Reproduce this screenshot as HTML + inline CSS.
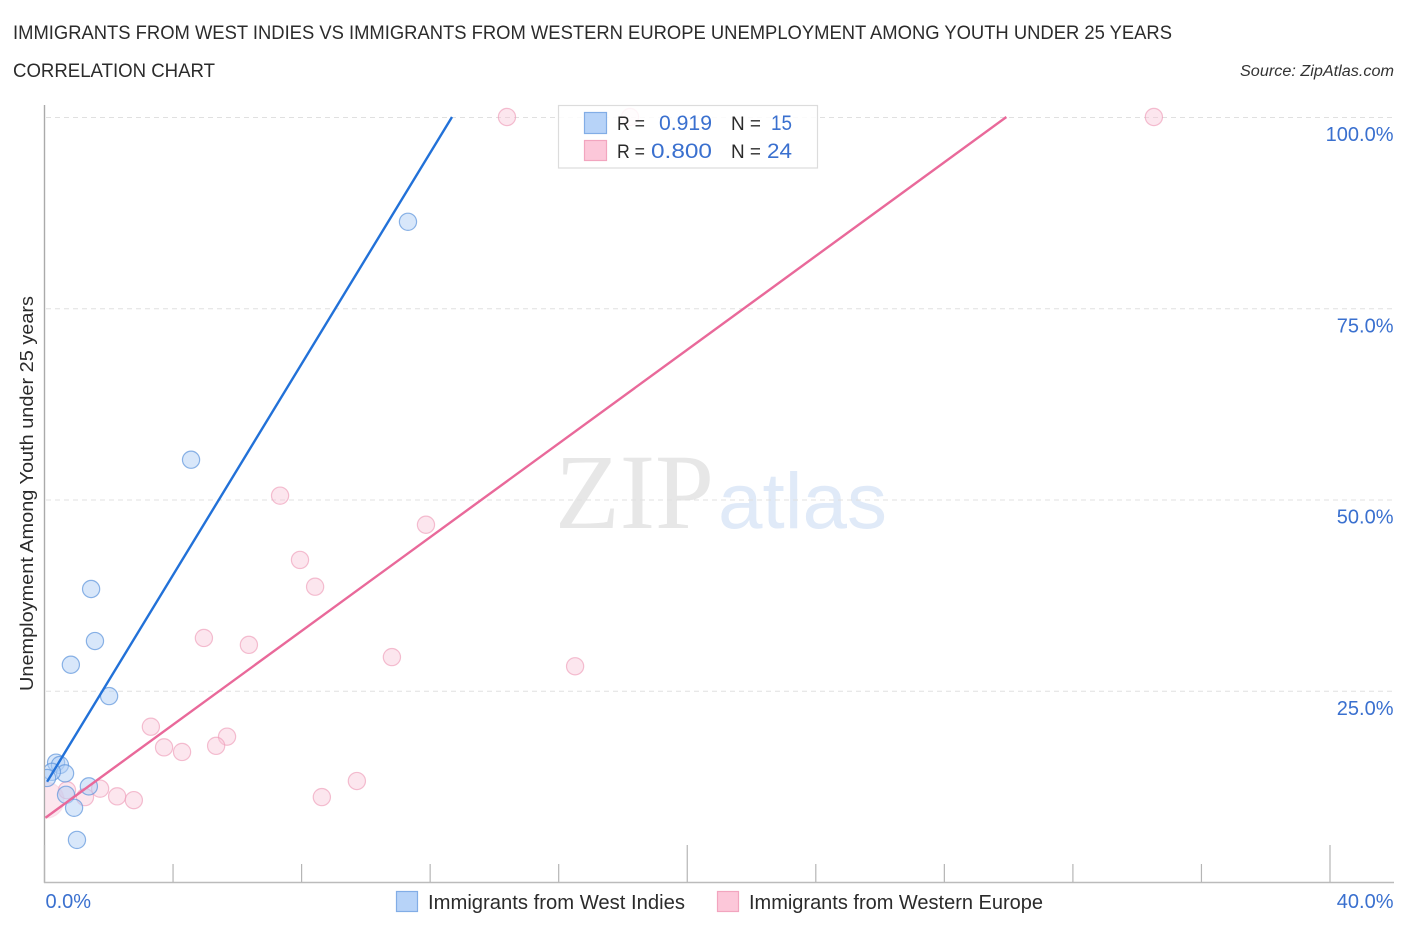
<!DOCTYPE html>
<html lang="en">
<head>
<meta charset="utf-8">
<title>Unemployment Among Youth under 25 years correlation chart</title>
<style>
html,body{margin:0;padding:0;background:#fff;width:1406px;height:930px;overflow:hidden}
svg{display:block;font-family:"Liberation Sans",sans-serif}
</style>
</head>
<body>
<svg id="chart" width="1406" height="930" viewBox="0 0 1406 930">
  <defs><clipPath id="plot-clip"><rect x="45" y="100" width="1350" height="782"/></clipPath></defs>
  <text x="13" y="39" font-size="19" fill="#2b2b2b" textLength="1159" lengthAdjust="spacingAndGlyphs">IMMIGRANTS FROM WEST INDIES VS IMMIGRANTS FROM WESTERN EUROPE UNEMPLOYMENT AMONG YOUTH UNDER 25 YEARS</text>
  <text x="13" y="77" font-size="19" fill="#2b2b2b" textLength="202" lengthAdjust="spacingAndGlyphs">CORRELATION CHART</text>
  <text x="1394" y="76" font-size="15.5" font-style="italic" fill="#333" text-anchor="end" textLength="154" lengthAdjust="spacingAndGlyphs">Source: ZipAtlas.com</text>

  <g>
    <text x="555" y="528" font-family="'Liberation Serif',serif" font-size="107" fill="#e7e7e7" textLength="159" lengthAdjust="spacingAndGlyphs">ZIP</text>
    <text x="718" y="528" font-family="'Liberation Sans',sans-serif" font-size="79" fill="#e0eaf8" textLength="169" lengthAdjust="spacingAndGlyphs">atlas</text>
  </g>

  <g id="grid"></g>
  <g id="axes"></g>
  <g id="pink-points" clip-path="url(#plot-clip)"></g>
  <g id="blue-points" clip-path="url(#plot-clip)"></g>
  <g id="trend-lines"></g>

  <text transform="translate(33,691) rotate(-90)" font-size="18.5" fill="#2b2b2b" textLength="395" lengthAdjust="spacingAndGlyphs">Unemployment Among Youth under 25 years</text>

  <g>
    <rect x="558.5" y="105.5" width="259" height="62.5" fill="#fff" fill-opacity="0.85" stroke="#dcdcdc" stroke-width="1.2"/>
    <rect x="584.5" y="112.5" width="22" height="21" fill="#b7d3f8" stroke="#82ade6" stroke-width="1.2"/>
    <rect x="584.5" y="140.5" width="22" height="20" fill="#fcc7d9" stroke="#f2a5bf" stroke-width="1.2"/>
    <text x="617" y="130" font-size="19" fill="#2b2b2b" textLength="28" lengthAdjust="spacingAndGlyphs">R =</text>
    <text x="659" y="130" font-size="21.5" fill="#3a70cf" textLength="53" lengthAdjust="spacingAndGlyphs">0.919</text>
    <text x="731" y="130" font-size="19" fill="#2b2b2b" textLength="30" lengthAdjust="spacingAndGlyphs">N =</text>
    <text x="771" y="130" font-size="21.5" fill="#3a70cf" textLength="21" lengthAdjust="spacingAndGlyphs">15</text>
    <text x="617" y="158" font-size="19" fill="#2b2b2b" textLength="28" lengthAdjust="spacingAndGlyphs">R =</text>
    <text x="651" y="158" font-size="21.5" fill="#3a70cf" textLength="61" lengthAdjust="spacingAndGlyphs">0.800</text>
    <text x="731" y="158" font-size="19" fill="#2b2b2b" textLength="30" lengthAdjust="spacingAndGlyphs">N =</text>
    <text x="767" y="158" font-size="21.5" fill="#3a70cf" textLength="25" lengthAdjust="spacingAndGlyphs">24</text>
  </g>

  <g>
    <rect x="396.5" y="891.5" width="21" height="20" fill="#b7d3f8" stroke="#82ade6" stroke-width="1.2"/>
    <text x="428" y="909" font-size="20" fill="#2b2b2b" textLength="257" lengthAdjust="spacingAndGlyphs">Immigrants from West Indies</text>
    <rect x="717.5" y="891.5" width="21" height="20" fill="#fcc7d9" stroke="#f2a5bf" stroke-width="1.2"/>
    <text x="749" y="909" font-size="20" fill="#2b2b2b" textLength="294" lengthAdjust="spacingAndGlyphs">Immigrants from Western Europe</text>
  </g>
</svg>
<script>
const xTickValues = [0, 4, 8, 12, 16, 20, 24, 28, 32, 36, 40];
const xMajorTicks = [0, 20, 40];
const xTickLabels = ['0.0%', '40.0%'];
const xLabelValues = [0, 40];
const yGridValues = [25, 50, 75, 100];
const yTickLabels = ['25.0%', '50.0%', '75.0%', '100.0%'];

const blueX = [11.31, 4.56, 1.45, 1.57, 0.82, 2.01, 0.36, 0.48, 0.64, 0.23, 0.08, 1.38, 0.67, 0.92, 1.01];
const blueY = [86.3, 55.2, 38.3, 31.5, 28.4, 24.3, 15.6, 15.3, 14.2, 14.4, 13.6, 12.5, 11.4, 9.7, 5.5];

const pinkX = [14.39, 18.22, 34.52, 7.33, 11.87, 7.95, 8.42, 4.96, 6.36, 10.81, 16.51, 3.31, 5.68, 3.72, 5.34, 4.28, 9.72, 8.63, 1.73, 2.26, 2.78, 1.26, 0.70, 0.05];
const pinkY = [100, 100, 100, 50.5, 46.7, 42.1, 38.6, 31.9, 31.0, 29.4, 28.2, 20.3, 19.0, 17.6, 17.8, 17.0, 13.2, 11.1, 12.2, 11.2, 10.7, 11.1, 12.0, 10.7];
const pinkWeights = [1, 1, 1, 1, 1, 1, 1, 1, 1, 1, 1, 1, 1, 1, 1, 1, 1, 1, 1, 1, 1, 1, 1, 2];

const blueTrendX = [0.08, 12.68];
const blueTrendY = [13.1, 100];
const pinkTrendX = [0.03, 29.93];
const pinkTrendY = [8.4, 100];

const NS = 'http://www.w3.org/2000/svg';
const X0 = 44.5, X1 = 1330, XMAX = 40;
const Y0 = 882, Y100 = 117;
function xScale(v) { return X0 + (v / XMAX) * (X1 - X0); }
function yScale(v) { return Y0 - (v / 100) * (Y0 - Y100); }
function make(tag, attrs, parent) {
  const el = document.createElementNS(NS, tag);
  for (const k in attrs) el.setAttribute(k, attrs[k]);
  parent.appendChild(el);
  return el;
}

const grid = document.getElementById('grid');
const axes = document.getElementById('axes');

yGridValues.forEach(function (v, i) {
  const line = make('line', { x1: 46, x2: 1392, y1: yScale(v) + 0.5, y2: yScale(v) + 0.5, stroke: '#e0e0e0', 'stroke-width': 1, 'stroke-dasharray': '5 4' }, grid);
  
  
  const label = make('text', { x: 1393.5, y: yScale(v) + 24, 'font-size': 20, fill: '#3a70cf', 'text-anchor': 'end' }, axes);
  label.textContent = yTickLabels[i];
  
  
});

const yAxis = make('line', { x1: 44.5, x2: 44.5, y1: 105, y2: 883, stroke: '#aaaaaa', 'stroke-width': 1.4 }, axes);


const xAxis = make('line', { x1: 44, x2: 1394, y1: 882.5, y2: 882.5, stroke: '#bbbbbb', 'stroke-width': 1.4 }, axes);



xTickValues.forEach(function (v) {
  const major = xMajorTicks.indexOf(v) >= 0;
  const tick = make('line', { x1: xScale(v), x2: xScale(v), y1: major ? 845 : 864, y2: 882, stroke: '#b5b5b5', 'stroke-width': 1.2 }, axes);
  
  
});

xLabelValues.forEach(function (v, i) {
  const label = make('text', { x: i === 0 ? xScale(v) + 1 : 1393.5, y: 908, 'font-size': 20, fill: '#3a70cf', 'text-anchor': i === 0 ? 'start' : 'end' }, axes);
  label.textContent = xTickLabels[i];
  
  
});

const pinkLayer = document.getElementById('pink-points');
pinkX.forEach(function (v, i) {
  const c = make('circle', { cx: xScale(v), cy: yScale(pinkY[i]), r: pinkWeights[i] > 1 ? 18 : 8.6, fill: '#f9c3d6', 'fill-opacity': 0.42, stroke: '#ee9db9', 'stroke-opacity': pinkWeights[i] > 1 ? 0.2 : 0.65, 'stroke-width': 1.2 }, pinkLayer);
  
  
});

const blueLayer = document.getElementById('blue-points');
blueX.forEach(function (v, i) {
  const c = make('circle', { cx: xScale(v), cy: yScale(blueY[i]), r: 8.6, fill: '#b2d0f6', 'fill-opacity': 0.5, stroke: '#5c94dc', 'stroke-opacity': 0.7, 'stroke-width': 1.2 }, blueLayer);
  
  
});

const trends = document.getElementById('trend-lines');
const blueTrend = make('line', { x1: xScale(blueTrendX[0]), y1: yScale(blueTrendY[0]), x2: xScale(blueTrendX[1]), y2: yScale(blueTrendY[1]), stroke: '#2271d8', 'stroke-width': 2.4 }, trends);


const pinkTrend = make('line', { x1: xScale(pinkTrendX[0]), y1: yScale(pinkTrendY[0]), x2: xScale(pinkTrendX[1]), y2: yScale(pinkTrendY[1]), stroke: '#e9699a', 'stroke-width': 2.4 }, trends);


</script>
</body>
</html>
